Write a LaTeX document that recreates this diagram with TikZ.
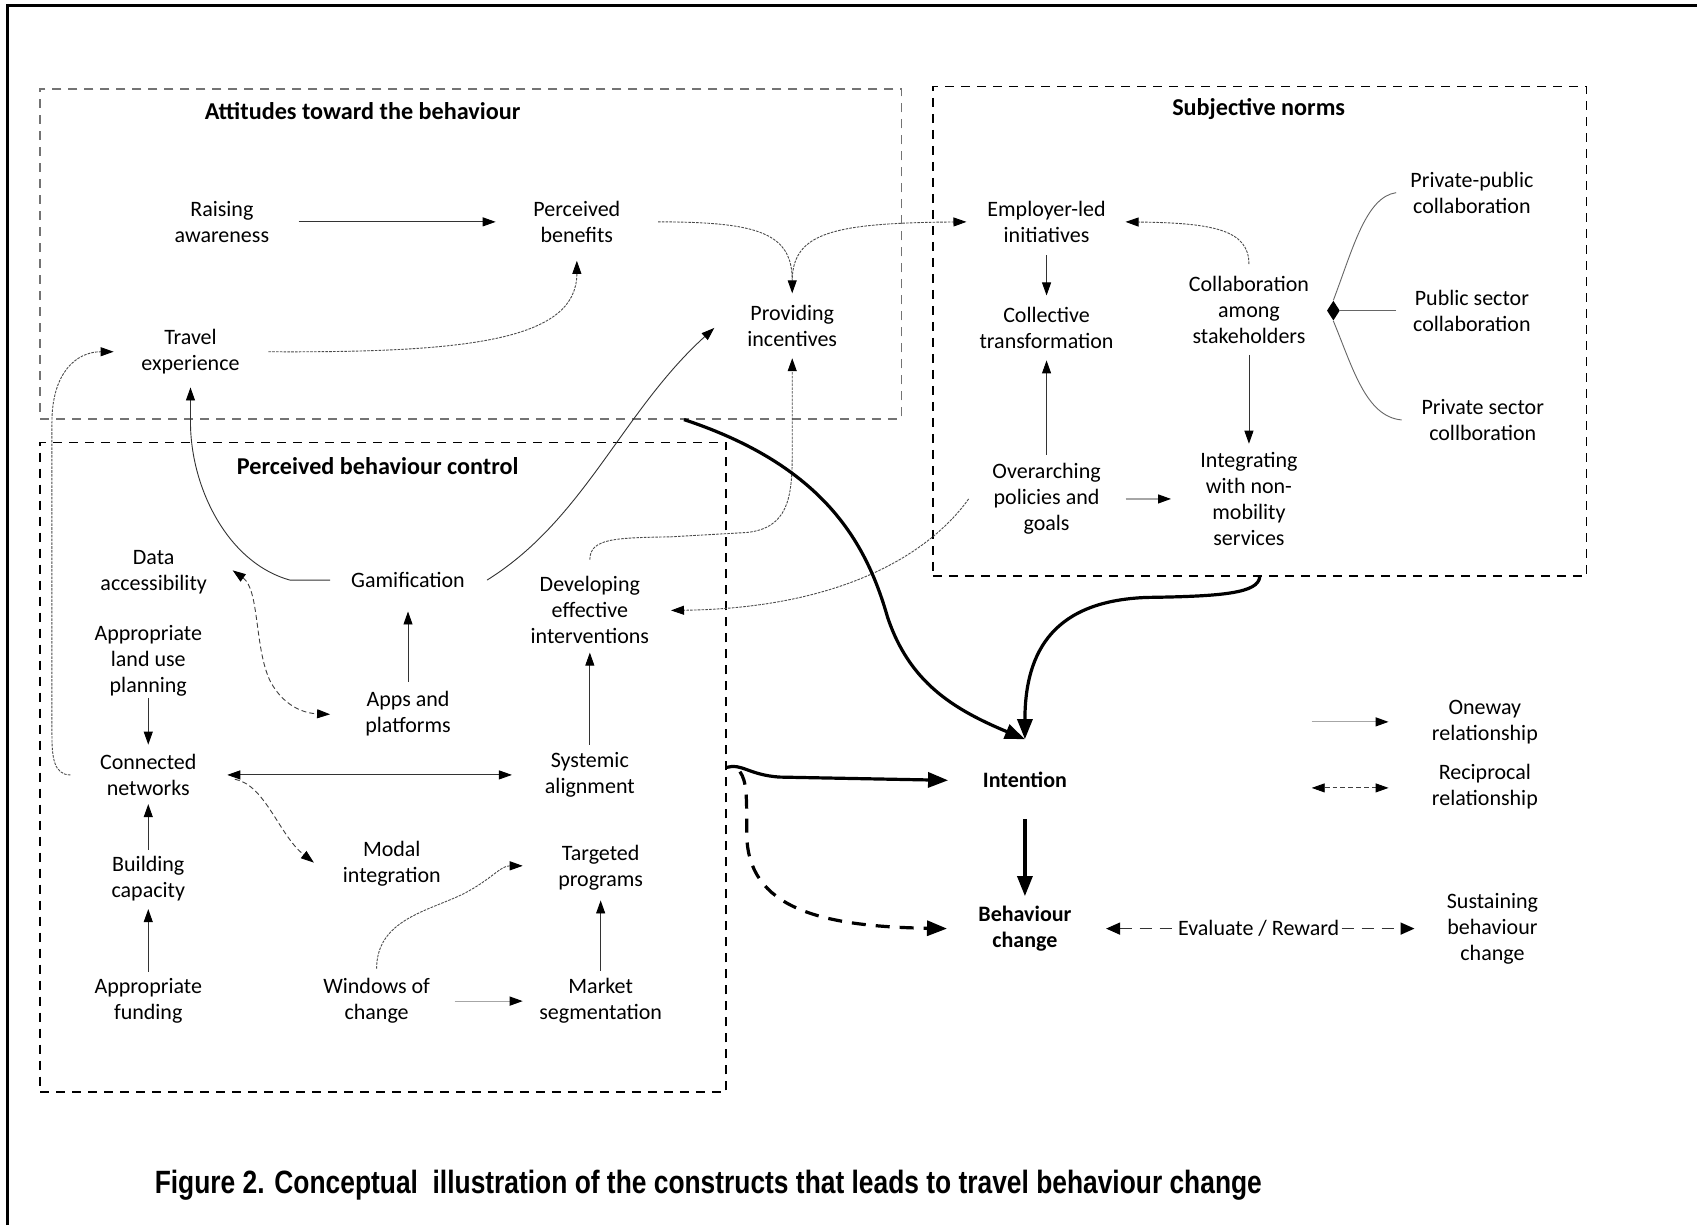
\documentclass[tikz,border=0pt]{standalone}
\usepackage{fontspec}
\usepackage{graphicx}
\setmainfont{Carlito}
\newfontfamily\capfont{Liberation Sans}
\usetikzlibrary{arrows.meta,calc,fit,shapes.geometric}
\begin{document}
\begin{tikzpicture}[x=0.5412pt,y=-0.5412pt,
  lbl/.style={align=center, font=\fontsize{11}{13}\selectfont, inner sep=1pt},
  ttl/.style={align=center, font=\fontsize{11}{13}\selectfont\bfseries, inner sep=1pt},
  grp/.style={align=center, font=\fontsize{12.1}{14}\selectfont\bfseries, inner sep=1pt},
  onetip/.style={-{Triangle[length=6.5pt,width=4.5pt,color=black]}},
  twotips/.style={{Triangle[length=6.5pt,width=4.5pt,color=black]}-{Triangle[length=6.5pt,width=4.5pt,color=black]}},
  thinln/.style={draw=black!80, line width=0.45pt},
  lightln/.style={draw=black!35, line width=0.6pt},
  dotln/.style={draw=black!70, line width=0.45pt, dash pattern=on 1.3pt off 0.6pt},
  dashln/.style={draw=black!75, line width=0.45pt, dash pattern=on 2.5pt off 1.5pt},
  boxg/.style={draw=black!55, line width=0.75pt, dash pattern=on 4.5pt off 3.5pt, inner sep=0pt},
  boxk/.style={draw=black, line width=0.75pt, dash pattern=on 4.5pt off 3.5pt, inner sep=0pt},
  thk/.style={draw=black, line width=1.6pt, -{Triangle[length=10pt,width=7.5pt]}},
  thkd/.style={thk, dash pattern=on 7pt off 5pt},
  evalln/.style={draw=black!80, line width=0.8pt, dash pattern=on 6pt off 4pt}
]
\fill[white] (0,0) rectangle (1568,1132);
\useasboundingbox (0,0) rectangle (1568,1132);
% outer frame
\draw[line width=1.1pt] (7,1132) -- (7,5) -- (1568,5);

% group boxes
\node[boxg, fit={(37,82)(833,387)}] (boxA) {};
\node[boxk, fit={(862,80)(1466,532)}] (boxS) {};
\node[boxk, fit={(37,409)(671,1009)}] (boxP) {};

% titles
\node[grp] (tA) at (335,103) {Attitudes toward the behaviour};
\node[grp] (tS) at (1163,101) {Subjective norms};
\node[grp] (tP) at (349,431) {Perceived behaviour control};

% attitudes
\node[lbl] (raise) at (205,205) {Raising\\awareness};
\node[lbl] (perc) at (533,205) {Perceived\\benefits};
\node[lbl] (travel) at (176,325) {Travel\\experience};
\node[lbl] (incent) at (732,301) {Providing\\incentives};

% subjective norms
\node[lbl] (emp) at (967,205) {Employer-led\\initiatives};
\node[lbl] (coll) at (967,303) {Collective\\transformation};
\node[lbl] (collab) at (1154,286) {Collaboration\\among\\stakeholders};
\node[lbl] (pp) at (1360,178) {Private-public\\collaboration};
\node[lbl] (pub) at (1360,287) {Public sector\\collaboration};
\node[lbl] (priv) at (1370,388) {Private sector\\collboration};
\node[lbl] (over) at (967,461) {Overarching\\policies and\\goals};
\node[lbl] (integ) at (1154,461) {Integrating\\with non-\\mobility\\services};

% perceived behaviour control
\node[lbl] (data) at (142,529) {Data\\accessibility};
\node[lbl] (land) at (137,611) {Appropriate\\land use\\planning};
\node[lbl] (gami) at (377,536) {Gamification};
\node[lbl] (dev) at (545,564) {Developing\\effective\\interventions};
\node[lbl] (apps) at (377,659) {Apps and\\platforms};
\node[lbl] (conn) at (137,716) {Connected\\networks};
\node[lbl] (sys) at (545,716) {Systemic\\alignment};
\node[lbl] (modal) at (362,798) {Modal\\integration};
\node[lbl] (targ) at (555,802) {Targeted\\programs};
\node[lbl] (build) at (137,812) {Building\\capacity};
\node[lbl] (fund) at (137,925) {Appropriate\\funding};
\node[lbl] (wind) at (348,925) {Windows of\\change};
\node[lbl] (market) at (555,925) {Market\\segmentation};

% outcome
\node[ttl] (intent) at (947,721) {Intention};
\node[ttl] (behav) at (947,858) {Behaviour\\change};
\node[lbl] (sustain) at (1379,858) {Sustaining\\behaviour\\change};
\node[lbl] (evalr) at (1163,858) {Evaluate / Reward};

% legend
\node[lbl] (oneway) at (1372,667) {Oneway\\relationship};
\node[lbl] (recip) at (1372,727) {Reciprocal\\relationship};

% caption
\node[inner sep=0pt] (cap) at (654.5,1095) {\resizebox{553.6pt}{1.12\height}{\capfont\bfseries\fontsize{14.4}{16}\selectfont Figure 2. Conceptual\ \ illustration of the constructs that leads to travel behaviour change}};

% ---- connectors: attitudes
\draw[thinln, onetip] ($(raise)+(71,0)$) -- ($(perc)+(-75,0)$);
\draw[dotln, onetip] ($(perc)+(75,0)$) .. controls (700,205) and (732,215) .. ($(incent)+(0,-30)$);
\draw[dotln, onetip] ($(incent)+(0,-44)$) .. controls (734,215) and (770,206) .. ($(emp)+(-74,0)$);
\draw[dotln, onetip] ($(travel)+(72,0)$) .. controls (430,326) and (533,315) .. ($(perc)+(0,36)$);
\draw[thinln, onetip] ($(gami)+(73,0)$) .. controls (540,480) and (575,380) .. ($(incent)+(-72,2)$);
\draw[thinln, onetip] ($(gami)+(-72,0)$) -- (268,536) .. controls (210,520) and (176,450) .. (176,390) -- ($(travel)+(0,33)$);
\draw[dotln, onetip] ($(dev)+(0,-47)$) .. controls (545,497) and (570,497) .. (620,496) -- (690,492) .. controls (728,488) and (732,460) .. (732,420) -- ($(incent)+(0,30)$);
\draw[dotln, onetip] ($(conn)+(-72,0)$) .. controls (50,716) and (48,700) .. (48,680) -- (48,390) .. controls (48,345) and (70,325) .. ($(travel)+(-71,0)$);

% ---- connectors: subjective norms
\draw[dotln, onetip] ($(over)+(-72,0)$) .. controls (860,510) and (780,562) .. ($(dev)+(75,0)$);
\draw[lightln, onetip] ($(over)+(73,0)$) -- ($(integ)+(-72,0)$);
\draw[thinln, onetip] ($(over)+(0,-41)$) -- ($(coll)+(0,30)$);
\draw[thinln, onetip] ($(emp)+(0,31)$) -- ($(coll)+(0,-30)$);
\draw[dotln, onetip] ($(collab)+(0,-42)$) .. controls (1154,212) and (1120,206) .. ($(emp)+(73,0)$);
\draw[thinln, onetip] ($(collab)+(0,42)$) -- ($(integ)+(0,-51)$);
\node[diamond, fill=black, inner sep=0pt, minimum width=6.5pt, minimum height=10pt] (dmd) at ($(collab)+(78,1)$) {};
\draw[thinln, draw=black!60] ($(pp)+(-70,0)$) .. controls (1262,182) and (1250,230) .. (dmd.north);
\draw[thinln, draw=black!60] ($(pub)+(-70,0)$) -- (dmd.east);
\draw[thinln, draw=black!60] ($(priv)+(-75,0)$) .. controls (1262,385) and (1250,340) .. (dmd.south);

% ---- connectors: PBC
\draw[dashln, twotips] ($(data)+(73,-2)$) .. controls (240,545) and (235,600) .. (250,630) .. controls (262,652) and (280,659) .. ($(apps)+(-72,1)$);
\draw[thinln, onetip] ($(apps)+(0,-29)$) -- ($(gami)+(0,29)$);
\draw[thinln, onetip] ($(land)+(0,34)$) -- ($(conn)+(0,-28)$);
\draw[thinln, twotips] ($(conn)+(73,0)$) -- ($(sys)+(-72,0)$);
\draw[dashln, onetip] ($(conn)+(80,4)$) .. controls (245,725) and (258,772) .. ($(modal)+(-72,-1)$);
\draw[thinln, onetip] ($(sys)+(0,-28)$) -- ($(dev)+(0,39)$);
\draw[thinln, onetip] ($(build)+(0,-27)$) -- ($(conn)+(0,27)$);
\draw[thinln, onetip] ($(fund)+(0,-27)$) -- ($(build)+(0,28)$);
\draw[dotln, onetip] ($(wind)+(0,-30)$) .. controls (348,850) and (395,842) .. (428,826) .. controls (455,812) and (462,800) .. ($(targ)+(-72,-2)$);
\draw[lightln, onetip] ($(wind)+(72,0)$) -- ($(market)+(-72,0)$);
\draw[thinln, onetip] ($(market)+(0,-28)$) -- ($(targ)+(0,30)$);

% ---- thick connectors
\draw[thk] ($(boxA.south)+(197,0)$) .. controls (760,430) and (800,500) .. (820,570) .. controls (840,630) and (880,655) .. ($(intent)+(0,-38)$);
\draw[thk] (boxS.south) .. controls (1163,548) and (1130,551) .. (1060,552) .. controls (975,555) and (947,600) .. ($(intent)+(0,-38)$);
\draw[thk] (boxP.east) .. controls (685,705) and (692,716) .. (720,718) -- ($(intent)+(-71,0)$);
\draw[thkd] ($(boxP.east)+(12,4)$) .. controls (690,722) and (690,735) .. (690,770) .. controls (690,840) and (760,856) .. ($(behav)+(-72,0)$);
\draw[thk] ($(intent)+(0,36)$) -- ($(behav)+(0,-30)$);

% evaluate / reward
\draw[evalln, {Triangle[length=7pt,width=6pt,color=black]}-] ($(behav)+(75,0)$) -- (evalr.west);
\draw[evalln, -{Triangle[length=7pt,width=6pt,color=black]}] (evalr.east) -- ($(sustain)+(-72,0)$);

% legend arrows
\coordinate (l1a) at (1212,667);
\coordinate (l1b) at (1283,667);
\draw[lightln, onetip] (l1a) -- (l1b);
\coordinate (l2a) at (1212,728);
\coordinate (l2b) at (1283,728);
\draw[dashln, twotips] (l2a) -- (l2b);
\end{tikzpicture}
\end{document}
